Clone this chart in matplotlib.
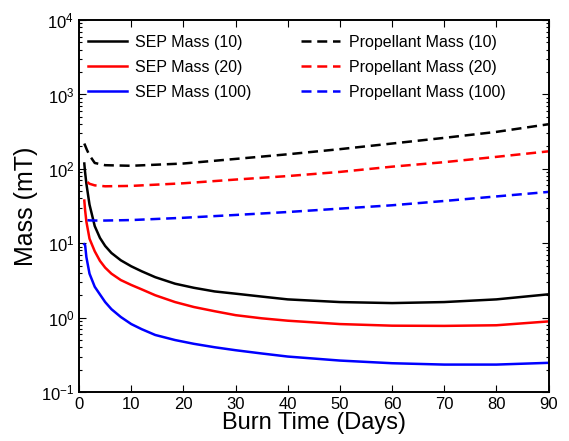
import numpy as np
import matplotlib
matplotlib.use("Agg")
import matplotlib.pyplot as plt
from matplotlib.ticker import LogLocator, NullFormatter

plt.rcParams['font.family'] = ['Liberation Sans', 'DejaVu Sans']
plt.rcParams['mathtext.fontset'] = 'custom'
plt.rcParams['mathtext.rm'] = 'Liberation Sans'
plt.rcParams['mathtext.it'] = 'Liberation Sans:italic'
plt.rcParams['mathtext.default'] = 'regular'

# burn time (days) for the SEP mass curves
days_sep = [1, 1.15, 1.4, 2, 3, 4, 5, 6.2, 8, 10, 12, 14.6, 18.4, 22, 26, 30, 35, 40, 50, 60, 70, 80, 90]
sep_10 = [118, 90, 63, 33, 17, 11.8, 9.2, 7.4, 5.9, 4.9, 4.2, 3.5, 2.86, 2.52, 2.25, 2.1, 1.92,
          1.76, 1.62, 1.57, 1.62, 1.76, 2.06]
sep_20 = [37.5, 28, 19.5, 11.5, 7.8, 5.8, 4.7, 3.9, 3.2, 2.75, 2.4, 2.0, 1.62, 1.39, 1.22, 1.08, 0.98,
          0.91, 0.82, 0.78, 0.775, 0.79, 0.89]
sep_100 = [9.7, 9.5, 6.5, 3.9, 2.6, 2.05, 1.62, 1.3, 1.02, 0.82, 0.7, 0.585, 0.5, 0.445, 0.40, 0.365, 0.33,
           0.30, 0.265, 0.244, 0.234, 0.234, 0.247]

# burn time (days) for the propellant mass curves
days_prop_10 = [1, 1.5, 2, 3, 5, 10, 20, 30, 40, 50, 60, 70, 80, 90]
prop_10 = [219, 180, 152, 120, 112, 110, 118, 136, 157, 184, 219, 261, 314, 398]
days_prop = [1.6, 2, 3, 5, 10, 20, 30, 40, 50, 60, 70, 80, 90]
prop_20 = [66.5, 63, 60, 58.3, 59, 64, 71.8, 80, 91, 107, 123, 145, 172]
prop_100 = [20.4, 20.3, 20.2, 20.2, 20.5, 22, 24, 26.3, 29.2, 32.4, 37, 42.6, 49]

labels_sep = ['SEP Mass (10)', 'SEP Mass (20)', 'SEP Mass (100)']
labels_prop = ['Propellant Mass (10)', 'Propellant Mass (20)', 'Propellant Mass (100)']
colors = ['black', '#ff0000', '#0000ff']

fig = plt.figure(figsize=(5.69, 4.41), dpi=100)
ax = fig.add_axes([0.139, 0.111, 0.825, 0.8435])

lw = 1.8
for vals, lab, c in zip([sep_10, sep_20, sep_100], labels_sep, colors):
    ax.plot(days_sep, vals, color=c, lw=lw, label=lab)
prop_x = [days_prop_10, days_prop, days_prop]
for xs, vals, lab, c in zip(prop_x, [prop_10, prop_20, prop_100], labels_prop, colors):
    ax.plot(xs, vals, color=c, lw=lw, linestyle=(0, (4, 2.3)), label=lab)

ax.set_yscale('log')
ax.set_xlim(0, 90)
ax.set_ylim(1e-1, 1e4)
ax.set_xticks(np.arange(0, 91, 10))
ax.yaxis.set_major_locator(LogLocator(base=10, numticks=10))
ax.yaxis.set_minor_locator(LogLocator(base=10, subs=np.arange(2, 10), numticks=20))
ax.yaxis.set_minor_formatter(NullFormatter())

ax.tick_params(which='both', direction='in', top=True, right=True, labelsize=12, width=0.8)
ax.tick_params(which='major', length=5)
ax.tick_params(which='minor', length=2.5)
for s in ax.spines.values():
    s.set_linewidth(1.4)

ax.set_xlabel('Burn Time (Days)', fontsize=17, labelpad=0)
ax.set_ylabel('Mass (mT)', fontsize=18, labelpad=2)

ax.legend(ncol=2, loc='upper left', bbox_to_anchor=(0.018, 0.960), frameon=False,
          fontsize=11.5, handlelength=2.45, handletextpad=0.55, labelspacing=0.62,
          columnspacing=3.1, borderpad=0, borderaxespad=0)

fig.savefig('out.png', dpi=100)
